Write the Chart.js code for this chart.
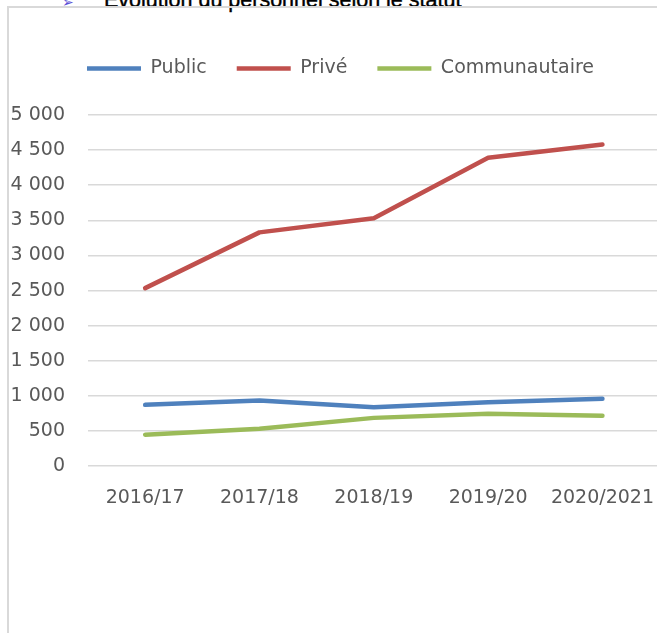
<!DOCTYPE html>
<html>
<head>
<meta charset="utf-8">
<script src="https://cdn.jsdelivr.net/npm/chart.js@4"></script>
<style>
  html, body { margin: 0; padding: 0; background: #fff; overflow: hidden; width: 657px; height: 633px; }
  #heading { position: absolute; left: 62px; top: -10px; font: 21.5px "Liberation Sans", Arial, sans-serif; line-height: 20px; color: #000; white-space: nowrap; -webkit-text-stroke: 0.4px #000; }
  #heading .bullet { color: #5b4fd6; font-size: 14px; margin-right: 30px; -webkit-text-stroke: 0; }
  #frame { position: absolute; left: 7px; top: 6px; width: 720px; height: 720px; border: 2px solid #d9d9d9; }
  #chart { position: absolute; left: 7px; top: 7px; }
</style>
</head>
<body>
<div id="heading"><span class="bullet">➢</span>Évolution du personnel selon le statut</div>
<div id="frame"></div>
<canvas id="chart" width="667" height="626"></canvas>
<script>
const years = ["2016/17", "2017/18", "2018/19", "2019/20", "2020/2021"];
const publicStaff = [874, 935, 840, 910, 959];
const privateStaff = [2535, 3329, 3531, 4390, 4580];
const communityStaff = [449, 532, 688, 745, 718];

const yMin = 0;
const yMax = 5000;
const yStep = 500;

const textColor = '#595959';
const gridColor = '#d9d9d9';
const fontFamily = '"DejaVu Sans", sans-serif';
const fontSize = 19;

const ctx = document.getElementById('chart').getContext('2d');

// extra room between the legend and the plot, like the original sheet
const legendGap = {
  id: 'legendGap',
  beforeInit(chart) {
    const fit = chart.legend.fit;
    chart.legend.fit = function () {
      fit.bind(chart.legend)();
      this.height += 27;
    };
  }
};

const staffChart = new Chart(ctx, {
  type: 'line',
  data: {
    labels: years,
    datasets: [{
      label: "Public",
      data: publicStaff,
      borderColor: '#4f81bd',
      backgroundColor: '#4f81bd',
      borderWidth: 4.5,
      borderCapStyle: 'round',
      borderJoinStyle: 'round',
      pointRadius: 0,
      fill: false
    },
    {
      label: "Privé",
      data: privateStaff,
      borderColor: '#c0504d',
      backgroundColor: '#c0504d',
      borderWidth: 4.5,
      borderCapStyle: 'round',
      borderJoinStyle: 'round',
      pointRadius: 0,
      fill: false
    },
    {
      label: "Communautaire",
      data: communityStaff,
      borderColor: '#9bbb59',
      backgroundColor: '#9bbb59',
      borderWidth: 4.5,
      borderCapStyle: 'round',
      borderJoinStyle: 'round',
      pointRadius: 0,
      fill: false
    }]
  },
  options: {
    responsive: false,
    animation: false,
    layout: {
      padding: { top: 22, left: 0, right: 0, bottom: 104 }
    },
    scales: {
      x: {
        offset: true,
        grid: { display: false, drawTicks: false },
        border: { display: false },
        ticks: {
          color: textColor,
          padding: 20,
          maxRotation: 0,
          font: { family: fontFamily, size: fontSize }
        }
      },
      y: {
        min: yMin,
        max: yMax,
        afterFit(scale) { scale.width = 81; },
        grid: { color: gridColor, lineWidth: 1.5, drawTicks: false },
        border: { display: false },
        ticks: {
          stepSize: yStep,
          color: textColor,
          padding: 23,
          font: { family: fontFamily, size: fontSize },
          callback: (v) => String(v).replace(/\B(?=(\d{3})+(?!\d))/g, ' ')
        }
      }
    },
    plugins: {
      legend: {
        display: true,
        labels: {
          usePointStyle: true,
          pointStyle: 'line',
          pointStyleWidth: 54,
          padding: 30,
          color: textColor,
          font: { family: fontFamily, size: fontSize }
        }
      },
      tooltip: { enabled: false }
    }
  },
  plugins: [legendGap]
});
</script>
</body>
</html>
